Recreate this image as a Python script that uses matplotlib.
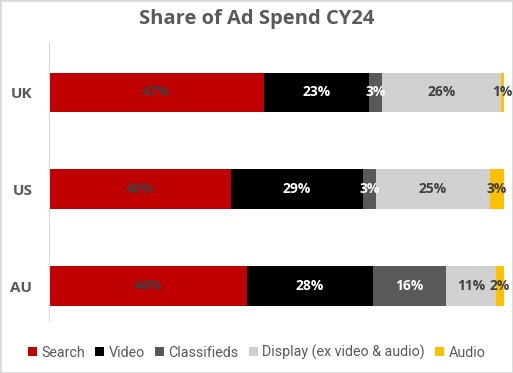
import numpy as np
import matplotlib
matplotlib.use("Agg")
import matplotlib.pyplot as plt
from matplotlib.patches import Rectangle

# share of ad spend, %
countries  = ["UK", "US", "AU"]
series     = ["Search", "Video", "Classifieds", "Display (ex video & audio)", "Audio"]
search     = [47.2, 40.0, 43.5]
video      = [23.1, 29.0, 27.7]
classified = [2.9, 2.9, 16.1]
display    = [26.2, 25.0, 10.9]
audio      = [0.6, 3.1, 1.8]

colors     = ["#c00000", "#000000", "#595959", "#d0d0d0", "#ffc000"]
lab_colors = ["#404040", "white", "white", "#404040", "#404040"]
grey = "#595959"
bold_font = "Open Sans"

fig = plt.figure(figsize=(5.13, 3.73), dpi=100)
fig.patches.append(Rectangle((0, 0), 1, 1, transform=fig.transFigure,
                             fill=False, edgecolor="#d9d9d9", linewidth=2))
ax = fig.add_axes([0.0955, 0.142, 0.8865, 0.745])

y = np.arange(len(countries))
left = np.zeros(len(countries))
for vals, name, col, tcol in zip([search, video, classified, display, audio],
                                 series, colors, lab_colors):
    vals = np.array(vals)
    bars = ax.barh(y, vals, left=left, height=0.41, color=col, label=name,
                   edgecolor="none")
    for b, v, l in zip(bars, vals, left):
        ax.text(l + v / 2, b.get_y() + b.get_height() / 2, "%d%%" % round(v),
                ha="center", va="center", color=tcol, fontsize=10,
                fontweight="bold", family=bold_font)
    left = left + vals

ax.set_xlim(0, 100)
ax.set_ylim(2.35, -0.52)
ax.set_yticks(y)
ax.set_yticklabels(countries, fontsize=11, fontweight="bold", color=grey, family=bold_font)
ax.tick_params(axis="y", length=0, pad=12)
ax.set_xticks([])
for s in ["top", "right", "bottom"]:
    ax.spines[s].set_visible(False)
ax.spines["left"].set_color("#d9d9d9")

fig.suptitle("Share of Ad Spend CY24", y=0.975, fontsize=14.5, fontweight="bold",
             color=grey, family=bold_font)

fig.legend(loc="lower center", bbox_to_anchor=(0.5, 0.0), ncol=5, frameon=False,
           prop={"family": "Roboto", "size": 10.3}, handlelength=0.65,
           handleheight=0.65, handletextpad=0.3, columnspacing=0.7, labelcolor=grey)

plt.savefig("out.png", dpi=100)
